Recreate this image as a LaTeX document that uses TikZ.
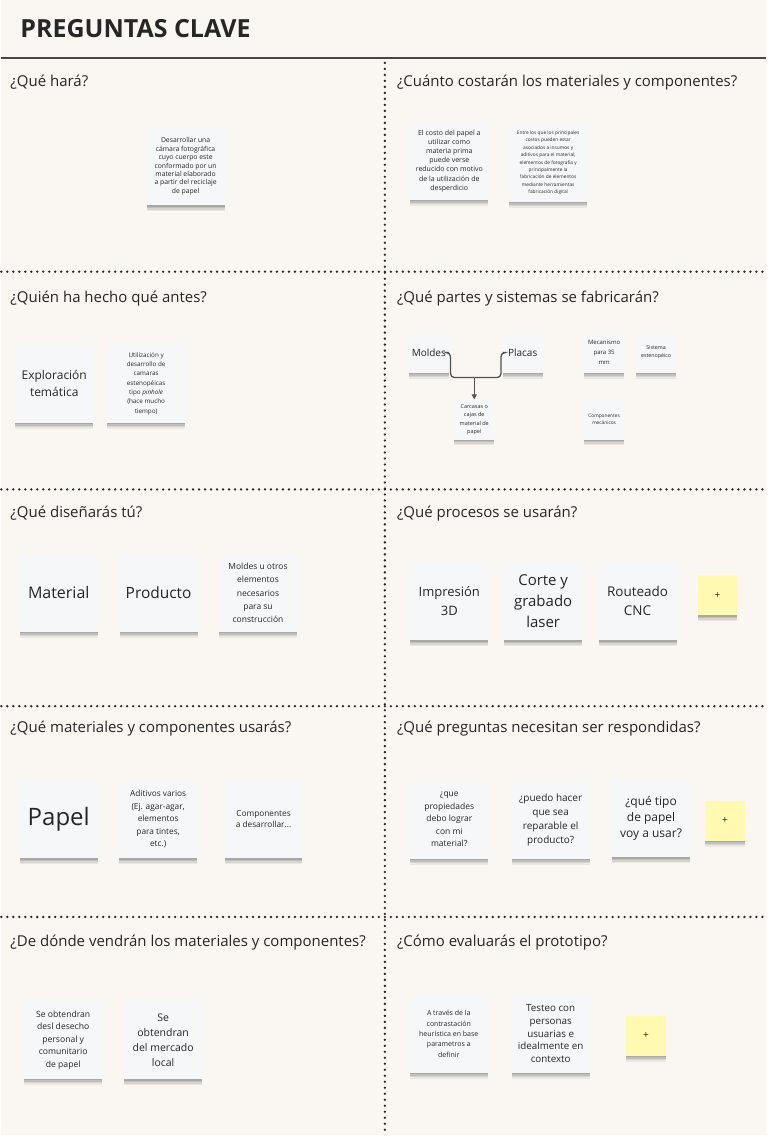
\documentclass[tikz,border=0pt]{standalone}
\usepackage{fontspec}
\setmainfont{Open Sans}
\usetikzlibrary{arrows.meta}
\pgfdeclarelayer{bg}
\pgfsetlayers{bg,main}
\definecolor{paper}{RGB}{250,247,242}
\definecolor{sticky}{RGB}{246,247,249}
\definecolor{stickyy}{RGB}{255,249,177}
\definecolor{ink}{RGB}{38,38,38}
\newcommand{\stickyfont}[2]{\fontsize{#1}{#2}\selectfont}

\begin{document}
\begin{tikzpicture}[x=1pt, y=-1pt,
    note/.style={fill=sticky, minimum width=78pt, minimum height=78pt, inner sep=1pt, align=center, text=ink,
        preaction={fill=black, opacity=0.06, transform canvas={yshift=-6pt}},
        preaction={fill=black, opacity=0.08, transform canvas={yshift=-4.5pt}},
        preaction={fill=black, opacity=0.10, transform canvas={yshift=-3pt}},
        preaction={fill=black, opacity=0.12, transform canvas={yshift=-1.5pt}}},
    small/.style={note, minimum width=40pt, minimum height=40pt},
    plus/.style={small, fill=stickyy, font=\stickyfont{10}{12}},
    question/.style={anchor=base west, text=ink, inner sep=0pt, font=\stickyfont{15}{18}},
    dots/.style={line width=2.6pt, line cap=round, dash pattern=on 0pt off 6pt, ink},
    link/.style={draw=ink!80, line width=1.3pt, rounded corners=4pt}]

    \begin{pgfonlayer}{bg}
        \fill[paper] (0, 0) rectangle (766, 1136);
        \draw[dots] (384, 63) -- (384, 1136);
        \draw[dots] (0, 272) -- (766, 272);
        \draw[dots] (0, 490) -- (766, 490);
        \draw[dots] (0, 707) -- (766, 707);
        \draw[dots] (0, 918) -- (766, 918);
    \end{pgfonlayer}

    \node (title) [anchor=base west, inner sep=0pt, text=ink, font=\stickyfont{25}{30}\bfseries] at (19, 38) {PREGUNTAS CLAVE};
    \draw[ink!85, line width=1.8pt] (0, 58) -- (766, 58);

    \node (qhara) [question] at (9, 87) {¿Qué hará?};
    \node (qcosto) [question] at (396, 87) {¿Cuánto costarán los materiales y componentes?};
    \node (qantes) [question] at (9, 303) {¿Quién ha hecho qué antes?};
    \node (qpartes) [question] at (396, 303) {¿Qué partes y sistemas se fabricarán?};
    \node (qdiseno) [question] at (9, 518) {¿Qué diseñarás tú?};
    \node (qprocesos) [question] at (396, 518) {¿Qué procesos se usarán?};
    \node (qmateriales) [question] at (9, 733) {¿Qué materiales y componentes usarás?};
    \node (qpreguntas) [question] at (396, 733) {¿Qué preguntas necesitan ser respondidas?};
    \node (qorigen) [question] at (9, 948) {¿De dónde vendrán los materiales y componentes?};
    \node (qevaluar) [question] at (396, 948) {¿Cómo evaluarás el prototipo?};

    \node (hara) [note, font=\stickyfont{6.8}{8.4}] at (184.5, 166.5) {Desarrollar una\\cámara fotográfica\\cuyo cuerpo este\\conformado por un\\material elaborado\\a partir del reciclaje\\de papel};

    \node (costo1) [note, font=\stickyfont{7}{9.2}] at (448.5, 161) {El costo del papel a\\utilizar como\\materia prima\\puede verse\\reducido con motivo\\de la utilización de\\desperdicio};
    \node (costo2) [note, font=\stickyfont{4.8}{7.4}] at (547.5, 163) {Entre los que los principales\\costos pueden estar\\asociados a insumos y\\aditivos para el material,\\elementos de fotografía y\\principalmente la\\fabricación de elementos\\mediante herramientas\\fabricación digital};

    \node (exploracion) [note, font=\stickyfont{12}{16.5}] at (53, 384) {Exploración\\temática};
    \node (pinhole) [note, font=\stickyfont{6.3}{9.3}] at (145, 384) {Utilización y\\desarrollo de\\camaras\\estenopéicas\\tipo \textit{pinhole}\\(hace mucho\\tiempo)};

    \node (moldes) [small, font=\stickyfont{10}{12}] at (428, 353) {Moldes};
    \node (placas) [small, font=\stickyfont{10}{12}] at (522, 353) {Placas};
    \node (carcasas) [small, font=\stickyfont{5.5}{8.5}] at (473.5, 420) {Carcasas o\\cajas de\\material de\\papel};
    \node (mecanismo) [small, font=\stickyfont{6}{10}] at (603.5, 353) {Mecanismo\\para 35\\mm};
    \node (sistema) [small, font=\stickyfont{5.3}{8}] at (655.5, 353) {Sistema\\estenopéico};
    \node (mecanicos) [small, font=\stickyfont{4.8}{7.5}] at (603.5, 420) {Componentes\\mecánicos};
    \coordinate (junta) at (473.5, 378);
    \draw[link] (moldes.east) -- ++(1.5, 0) |- (junta);
    \draw[link] (placas.west) -- ++(-1.5, 0) |- (junta);
    \draw[link, -{Triangle[length=5pt, width=5pt]}] (junta) -- (carcasas.north);

    \node (material) [note, font=\stickyfont{16}{19}] at (57.5, 593.5) {Material};
    \node (producto) [note, font=\stickyfont{15.5}{19}] at (157.5, 593.5) {Producto};
    \node (moldesotros) [note, font=\stickyfont{8.5}{13.3}] at (257, 593.5) {Moldes u otros\\elementos\\necesarios\\para su\\construcción};

    \node (impresion) [note, font=\stickyfont{13}{19}] at (448.5, 602) {Impresión\\3D};
    \node (laser) [note, font=\stickyfont{15}{21}] at (542.5, 602) {Corte y\\grabado\\laser};
    \node (cnc) [note, font=\stickyfont{13.5}{19}] at (637, 602) {Routeado\\CNC};
    \node (masprocesos) [plus] at (717, 596) {+};

    \node (papel) [note, font=\stickyfont{24}{28}] at (57.5, 820) {Papel};
    \node (aditivos) [note, font=\stickyfont{8.3}{12.5}] at (157, 820) {Aditivos varios\\(Ej. agar-agar,\\elementos\\para tintes,\\etc.)};
    \node (componentes) [note, font=\stickyfont{8.3}{11.7}] at (262.5, 820) {Componentes\\a desarrollar...};

    \node (propiedades) [note, font=\stickyfont{8.5}{12.5}] at (448.5, 820.5) {¿que\\propiedades\\debo lograr\\con mi\\material?};
    \node (reparable) [note, font=\stickyfont{10}{14}] at (550, 820.5) {¿puedo hacer\\que sea\\reparable el\\producto?};
    \node (tipopapel) [note, font=\stickyfont{12}{16}] at (650.5, 819) {¿qué tipo\\de papel\\voy a usar?};
    \node (maspreguntas) [plus] at (724.5, 821.5) {+};

    \node (desecho) [note, font=\stickyfont{8.6}{12.5}] at (62, 1041) {Se obtendran\\desl desecho\\personal y\\comunitario\\de papel};
    \node (mercado) [note, font=\stickyfont{10.5}{15}] at (162, 1041.5) {Se\\obtendran\\del mercado\\local};

    \node (heuristica) [note, font=\stickyfont{7}{10.4}] at (448, 1035) {A través de la\\contrastación\\heurística en base\\parametros a\\definir};
    \node (testeo) [note, font=\stickyfont{9.8}{12.7}] at (550, 1035) {Testeo con\\personas\\usuarias e\\idealmente en\\contexto};
    \node (masevaluar) [plus] at (645.5, 1037) {+};
\end{tikzpicture}
\end{document}
